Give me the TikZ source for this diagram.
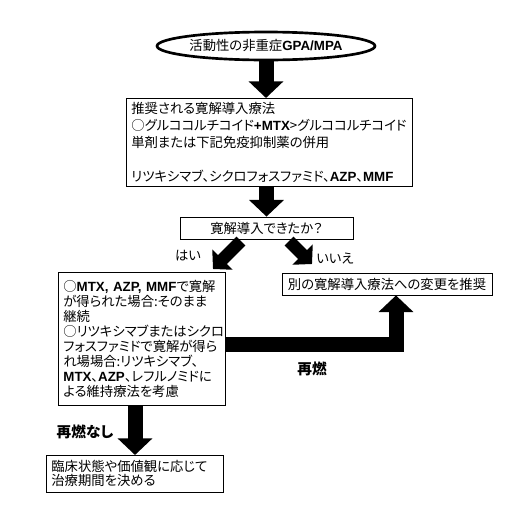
\documentclass[tikz,border=0pt]{standalone}
\usepackage{fontspec}
\setmainfont{Noto Sans CJK JP}[RawFeature=+palt]
\newfontfamily\arialfont{Liberation Sans}
\usetikzlibrary{arrows.meta,shapes.geometric}

\newcommand{\eb}[1]{{\arialfont\bfseries #1}}

\tikzset{
    box/.style={draw, line width=0.6pt, anchor=north west, align=left, inner xsep=3.75pt, inner ysep=0pt,
        font=\fontsize{10}{12.75}\selectfont},
    fat/.style={line width=11.25pt, -{Triangle[width=25.5pt,length=12.5pt]}},
    slim/.style={line width=9.5pt, -{Triangle[width=21pt,length=10pt]}},
    lbl/.style={font=\fontsize{10}{12}\selectfont}
}

\begin{document}
\begin{tikzpicture}[x=0.75pt, y=-0.75pt]
            \useasboundingbox (0,0) rectangle (532,504);

            \node[draw, ellipse, line width=2pt, minimum width=163.5pt, minimum height=21pt, inner sep=0pt,
                font=\fontsize{10}{12}\selectfont] (start) at (266,46) {活動性の非重症\eb{GPA/MPA}};

            \node[box, text width=207pt, minimum height=66pt] (induct) at (126,98)
                {推奨される寛解導入療法\\
                 ○グルココルチコイド\eb{+MTX}>グルココルチコイド\\
                 単剤または下記免疫抑制薬の併用\\[12.75pt]
                 リツキシマブ、シクロフォスファミド、\eb{AZP}、\eb{MMF}};

            \node[box, anchor=center, align=center, text width=122.25pt, minimum height=16.5pt] (check) at (266.5,228)
                {寛解導入できたか？};

            \node[box, text width=117.75pt, minimum height=99.75pt, font=\fontsize{10}{11.25}\selectfont] (keep) at (58,272)
                {○\eb{MTX, AZP, MMF}で寛解\\
                 が得られた場合:そのまま\\
                 継続\\
                 ○リツキシマブまたはシクロ\\
                 フォスファミドで寛解が得ら\\
                 れ場場合:リツキシマブ、\\
                 \eb{MTX}、\eb{AZP}、レフルノミドに\\
                 よる維持療法を考慮};

            \node[box, anchor=center, align=center, text width=150pt, minimum height=16.5pt] (change) at (387,284)
                {別の寛解導入療法への変更を推奨};

            \node[box, text width=125.25pt, minimum height=27.75pt, font=\fontsize{10}{10.5}\selectfont] (period) at (46,455)
                {臨床状態や価値観に応じて\\
                 治療期間を決める};

            \draw[fat] (start.south) -- (start.south |- induct.north);

            \draw[fat] (check.north |- induct.south) -- (check.north);

            \coordinate (yesA) at (241,241);

            \coordinate (yesB) at (213,269);

            \coordinate (noA) at (289,241);

            \coordinate (noB) at (312,264);

            \draw[slim] (yesA) -- (yesB);

            \draw[slim] (noA) -- (noB);

            \coordinate (relapse) at (396,344.5);

            \draw[fat, line join=miter] (keep.east |- relapse) -| (relapse |- change.south);

            \draw[fat] (135,0 |- keep.south) -- (period.north -| 135,0);

            \node[lbl] (yes) at (188,256) {はい};

            \node[lbl] (no) at (335,259) {いいえ};

            \node[lbl, font=\fontsize{11}{13}\selectfont\bfseries] (rel) at (312,369) {再燃};

            \node[lbl, font=\fontsize{11}{13}\selectfont\bfseries] (norel) at (85,432) {再燃なし};
        \end{tikzpicture}
\end{document}
